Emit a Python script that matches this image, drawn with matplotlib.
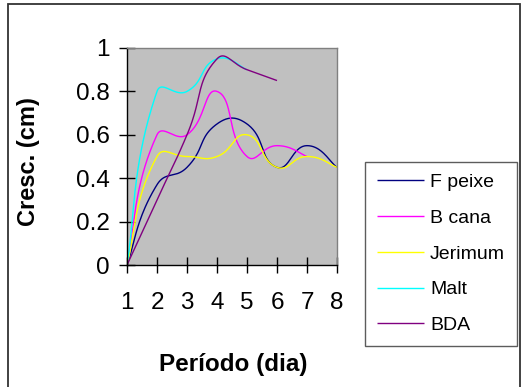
import numpy as np
import matplotlib
matplotlib.use("Agg")
import matplotlib.pyplot as plt
from matplotlib.patches import Rectangle

periods = [1, 2, 3, 4, 5, 6, 7, 8]
f_peixe = [0.0, 0.37, 0.45, 0.65, 0.65, 0.45, 0.55, 0.45]
b_cana = [0.0, 0.60, 0.60, 0.80, 0.50, 0.55, 0.50]
jerimum = [0.0, 0.50, 0.50, 0.50, 0.60, 0.45, 0.50, 0.45]
malt = [0.0, 0.80, 0.80, 0.95, 0.90]
bda = [0.0, 0.30, 0.60, 0.95, 0.90, 0.85]

series = [
    ("F peixe", f_peixe, "#000080"),
    ("B cana", b_cana, "#FF00FF"),
    ("Jerimum", jerimum, "#FFFF00"),
    ("Malt", malt, "#00FFFF"),
    ("BDA", bda, "#800080"),
]


def smooth(ax, xs, ys, n=40, tension=0.5):
    """Excel-like smoothed line, computed in screen space."""
    pts = ax.transData.transform(np.column_stack([xs, ys]).astype(float))
    m = len(pts)
    out = []
    t = np.linspace(0, 1, n)[:, None]
    d = np.hypot(*np.diff(pts, axis=0).T)
    for i in range(m - 1):
        p0 = pts[max(i - 1, 0)]
        p1 = pts[i]
        p2 = pts[i + 1]
        p3 = pts[min(i + 2, m - 1)]
        if i > 0:
            c1 = p1 + (p2 - p0) * tension * d[i] / (d[i - 1] + d[i])
        else:
            c1 = p1 + (p2 - p1) * tension * 0.5
        if i + 1 < m - 1:
            c2 = p2 - (p3 - p1) * tension * d[i] / (d[i] + d[i + 1])
        else:
            c2 = p2 - (p2 - p1) * tension * 0.5
        seg = ((1 - t) ** 3) * p1 + 3 * ((1 - t) ** 2) * t * c1 + 3 * (1 - t) * t ** 2 * c2 + t ** 3 * p2
        out.append(seg if i == 0 else seg[1:])
    arr = ax.transData.inverted().transform(np.vstack(out))
    return arr[:, 0], arr[:, 1]


plt.rcParams['font.family'] = ['Liberation Sans', 'DejaVu Sans']

fig = plt.figure(figsize=(5.24, 3.87), dpi=100)
fig.patch.set_facecolor("white")
ax = fig.add_axes([127 / 524, 1 - 265 / 387, (337 - 127) / 524, (265 - 48) / 387])
ax.set_facecolor("#C0C0C0")
ax.set_xlim(1, 8)
ax.set_ylim(0, 1)

handles = []
for name, vals, col in series:
    sx, sy = smooth(ax, periods[:len(vals)], vals)
    h, = ax.plot(sx, sy, color=col, lw=1.0, label=name, solid_capstyle='butt')
    handles.append(h)

ax.set_xlim(1, 8)
ax.set_ylim(0, 1)
ax.set_xticks(periods)
ax.set_xticklabels([str(p) for p in periods])
ax.set_yticks([0, 0.2, 0.4, 0.6, 0.8, 1.0])
ax.set_yticklabels(["0", "0.2", "0.4", "0.6", "0.8", "1"])
ax.tick_params(axis='both', direction='inout', length=11, width=1.0, colors='black', labelsize=17.5)
ax.tick_params(axis='y', pad=7)
ax.tick_params(axis='x', pad=14)

for side in ['top', 'right']:
    ax.spines[side].set_color('#808080')
    ax.spines[side].set_linewidth(1.0)
for side in ['left', 'bottom']:
    ax.spines[side].set_color('black')
    ax.spines[side].set_linewidth(1.0)

fig.text(29 / 524, 1 - 162 / 387, "Cresc. (cm)", rotation=90, ha='center', va='center',
         fontsize=17, fontweight='bold')
fig.text(233 / 524, 1 - 364 / 387, "Período (dia)", ha='center', va='center',
         fontsize=17.5, fontweight='bold')

leg = fig.legend(handles=handles, loc='upper left',
                 bbox_to_anchor=(365 / 524, 1 - 162 / 387), bbox_transform=fig.transFigure,
                 frameon=True, fancybox=False, shadow=False, fontsize=14,
                 handlelength=2.45, handletextpad=0.3, labelspacing=0.93,
                 borderpad=0.6, borderaxespad=0)
leg.get_frame().set_edgecolor('#333333')
leg.get_frame().set_linewidth(1.0)

fig.patches.append(Rectangle((8 / 524, -0.05), (520 - 8) / 524, 1.05 - 4 / 387,
                             transform=fig.transFigure, fill=False,
                             edgecolor='#333333', linewidth=1.3))

fig.savefig("out.png", dpi=100)
